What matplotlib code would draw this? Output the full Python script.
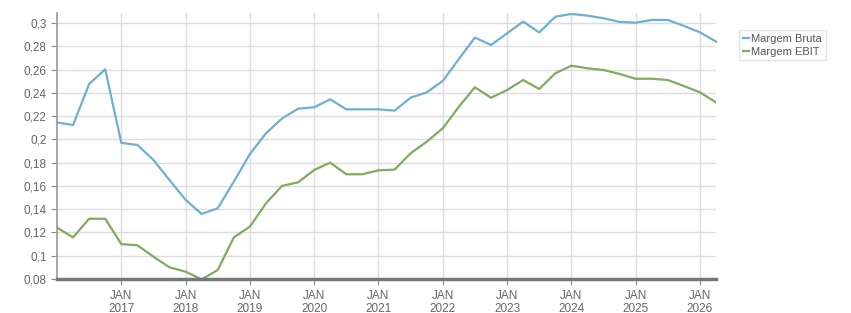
import matplotlib.pyplot as plt
import matplotlib.ticker as mticker
import numpy as np

plt.rcParams["font.family"] = ["Liberation Sans", "DejaVu Sans"]

# quarterly data, Jan 2016 .. Apr 2026
start_year = 2016
margem_bruta = [0.2145, 0.2124, 0.2476, 0.2602,
                0.197, 0.1952, 0.1823, 0.165,
                0.148, 0.1359, 0.1408, 0.1636,
                0.1874, 0.2052, 0.218, 0.2264,
                0.2276, 0.2344, 0.2258, 0.2258,
                0.2258, 0.2247, 0.2358, 0.2404,
                0.2502, 0.269, 0.2875, 0.2811,
                0.2911, 0.3012, 0.2919, 0.3054,
                0.3078, 0.3063, 0.3041, 0.3009,
                0.3003, 0.3026, 0.3026, 0.2975,
                0.292, 0.284]
margem_ebit = [0.1241, 0.1158, 0.1318, 0.1318,
               0.110, 0.109, 0.0992, 0.090,
               0.0863, 0.0797, 0.0877, 0.1158,
               0.125, 0.145, 0.160, 0.1631,
               0.1737, 0.180, 0.170, 0.170,
               0.1734, 0.174, 0.188, 0.198,
               0.2095, 0.228, 0.2448, 0.2358,
               0.2424, 0.2510, 0.2433, 0.2568,
               0.2633, 0.2611, 0.2596, 0.2562,
               0.2521, 0.2521, 0.251, 0.2459,
               0.2404, 0.2318]
years = list(range(2017, 2027))
labels = ["Margem Bruta", "Margem EBIT"]

x = start_year + np.arange(len(margem_bruta)) / 4.0

fig = plt.figure(figsize=(8.51, 3.13), dpi=100)
ax = fig.add_axes([57 / 851, 1 - 279 / 313, (716 - 57) / 851, (279 - 13) / 313])

ax.plot(x, margem_bruta, color="#70aed2", lw=1.6, label=labels[0], clip_on=False)
ax.plot(x, margem_ebit, color="#80ab60", lw=1.6, label=labels[1])

ax.set_xlim(start_year, x[-1])
ax.set_ylim(0.08, 0.3086)
ax.set_xticks(years)
ax.set_xticklabels(["JAN\n%d" % y for y in years], linespacing=1.05)
ax.set_yticks(np.arange(0.08, 0.301, 0.02))
ax.yaxis.set_major_formatter(mticker.FuncFormatter(
    lambda v, p: ("%.2f" % v).rstrip("0").replace(".", ",")))

ax.grid(True, color="#dddddd", lw=1)
ax.set_axisbelow(True)
for s in ["top", "right"]:
    ax.spines[s].set_visible(False)
ax.spines["left"].set_color("#999999")
ax.spines["left"].set_linewidth(1.2)
ax.spines["bottom"].set_color("#777777")
ax.spines["bottom"].set_linewidth(2.5)
ax.tick_params(axis="both", colors="#888888", labelcolor="#666666", labelsize=8.5, length=4)
ax.tick_params(axis="x", pad=4)

leg = ax.legend(loc="upper left", bbox_to_anchor=(737 / 851, 1 - 28 / 313), bbox_transform=fig.transFigure,
                frameon=True, fontsize=8, handlelength=0.6, handletextpad=0.2, borderpad=0.3,
                labelspacing=0.3, fancybox=False, labelcolor="#555555", borderaxespad=0.2)
leg.get_frame().set_edgecolor("#dddddd")
leg.get_frame().set_linewidth(1)

fig.savefig("out.png", dpi=100)
